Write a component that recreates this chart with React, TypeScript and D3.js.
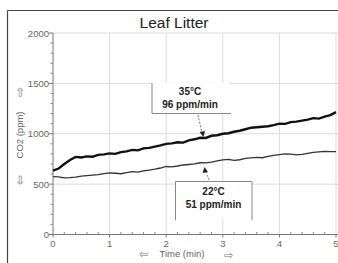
import React from "react";
import * as d3 from "d3";

const times = [
  0, 0.1, 0.2, 0.3, 0.4, 0.5, 0.6, 0.7, 0.8, 0.9,
  1.0, 1.1, 1.2, 1.3, 1.4, 1.5, 1.6, 1.7, 1.8, 1.9,
  2.0, 2.1, 2.2, 2.3, 2.4, 2.5, 2.6, 2.7, 2.8, 2.9,
  3.0, 3.1, 3.2, 3.3, 3.4, 3.5, 3.6, 3.7, 3.8, 3.9,
  4.0, 4.1, 4.2, 4.3, 4.4, 4.5, 4.6, 4.7, 4.8, 4.9, 5.0,
];
const co2_35C = [
  635, 655, 700, 740, 770, 765, 775, 772, 790, 795,
  805, 800, 818, 825, 840, 835, 855, 860, 872, 885,
  900, 905, 915, 912, 935, 945, 960, 958, 980, 985,
  1000, 1005, 1020, 1030, 1045, 1060, 1065, 1070, 1075, 1085,
  1100, 1098, 1115, 1120, 1130, 1140, 1155, 1150, 1170, 1185, 1215,
];
const co2_22C = [
  575, 572, 562, 565, 570, 580, 585, 590, 595, 605,
  612, 608, 603, 615, 625, 620, 632, 640, 648, 660,
  675, 672, 680, 690, 695, 700, 712, 710, 718, 730,
  740, 745, 735, 742, 755, 760, 765, 762, 775, 785,
  792, 800, 798, 790, 795, 805, 815, 820, 825, 822, 822,
];
const xTicks = [0, 1, 2, 3, 4, 5];
const yTicks = [0, 500, 1000, 1500, 2000];
const title = "Leaf Litter";
const xLabel = "Time (min)";
const yLabel = "CO2 (ppm)";
const note35 = ["35°C", "96 ppm/min"];
const note22 = ["22°C", "51 ppm/min"];

const W = 338, H = 263;
const FONT = "'Liberation Sans', Arial, sans-serif";

export default function App() {
  const x = d3.scaleLinear().domain([0, 5]).range([53, 336]);
  const y = d3.scaleLinear().domain([0, 2000]).range([234.5, 33]);
  const line = d3.line<number>().x((_, i) => x(times[i])).y((d) => y(d));
  const xMinor = d3.range(0, 5.001, 0.2).filter((t) => Math.abs(t - Math.round(t)) > 0.01);
  const yMinor = d3.range(0, 2001, 100).filter((v) => v % 500 !== 0);
  const x0 = x(0), yb = y(0);

  return (
    <div style={{ position: "fixed", left: 0, top: 0 }}>
      <svg width={W} height={H} style={{ display: "block", background: "#fff" }} fontFamily={FONT}>
        {/* outer frame */}
        <line x1={7.5} y1={10.5} x2={W} y2={10.5} stroke="#444" strokeWidth={1.2} />
        <line x1={7.5} y1={10.5} x2={7.5} y2={H} stroke="#444" strokeWidth={1.2} />
        <text x={174} y={28} textAnchor="middle" fontSize={15.5} fill="#222">{title}</text>

        {/* grid */}
        {xTicks.filter((t) => t > 0).map((t) => (
          <line key={"gx" + t} x1={x(t)} x2={x(t)} y1={y(2000)} y2={yb} stroke="#dcdcdc" strokeWidth={1} />
        ))}
        {yTicks.filter((v) => v > 0).map((v) => (
          <line key={"gy" + v} x1={x0} x2={W} y1={y(v)} y2={y(v)} stroke="#dcdcdc" strokeWidth={1} />
        ))}

        {/* axes */}
        <line x1={x0} x2={x0} y1={y(2000)} y2={yb} stroke="#777" strokeWidth={1} />
        <line x1={x0} x2={W} y1={yb} y2={yb} stroke="#777" strokeWidth={1} />
        {yTicks.map((v) => (
          <g key={"yt" + v}>
            <line x1={x0 - 4} x2={x0} y1={y(v)} y2={y(v)} stroke="#777" />
            <text x={x0 - 4} y={y(v) + 3.5} textAnchor="end" fontSize={9.5} fill="#666">{v}</text>
          </g>
        ))}
        {yMinor.map((v) => (
          <line key={"ym" + v} x1={x0 - 2.5} x2={x0} y1={y(v)} y2={y(v)} stroke="#888" />
        ))}
        {xTicks.map((t) => (
          <g key={"xt" + t}>
            <line x1={x(t)} x2={x(t)} y1={yb} y2={yb + 3} stroke="#777" />
            <text x={x(t)} y={yb + 12} textAnchor="middle" fontSize={9.5} fill="#666">{t}</text>
          </g>
        ))}
        {xMinor.map((t) => (
          <line key={"xm" + t} x1={x(t)} x2={x(t)} y1={yb - 2.5} y2={yb} stroke="#888" />
        ))}

        {/* axis labels */}
        <text x={182} y={257} textAnchor="middle" fontSize={9.5} fill="#666">{xLabel}</text>
        <text x={143} y={258} textAnchor="middle" fontSize={11} fill="#777">⇦</text>
        <text x={228} y={259} textAnchor="middle" fontSize={11} fill="#777">⇨</text>
        <text transform="translate(23,135) rotate(-90)" textAnchor="middle" fontSize={9.5} fill="#666">{yLabel}</text>
        <text transform="translate(24,92) rotate(-90)" textAnchor="middle" fontSize={12} fill="#777">⇨</text>
        <text transform="translate(24,180) rotate(-90)" textAnchor="middle" fontSize={12} fill="#777">⇦</text>

        {/* data lines */}
        <path d={line(co2_22C) || ""} fill="none" stroke="#333" strokeWidth={1.3} />
        <path d={line(co2_35C) || ""} fill="none" stroke="#111" strokeWidth={2.4} />

        {/* annotation 35C */}
        <rect x={152} y={83} width={78} height={30} fill="#fff" />
        <polyline points="152,83 152,113.5 231,113.5" fill="none" stroke="#888" strokeWidth={1} />
        <text x={190} y={95} textAnchor="middle" fontSize={10} fontWeight="bold" fill="#222">{note35[0]}</text>
        <text x={190} y={108} textAnchor="middle" fontSize={10} fontWeight="bold" fill="#222">{note35[1]}</text>
        <line x1={198} y1={115} x2={202} y2={133} stroke="#555" strokeWidth={0.8} strokeDasharray="2,1.5" />
        <path d="M199.5,132 L205,131 L203.5,137 Z" fill="#222" />

        {/* annotation 22C */}
        <rect x={175.5} y={181.5} width={76.5} height={37} fill="#fff" />
        <polyline points="175.5,220 175.5,181.5 252,181.5 252,220" fill="none" stroke="#888" strokeWidth={1} />
        <text x={213.5} y={194.5} textAnchor="middle" fontSize={10} fontWeight="bold" fill="#222">{note22[0]}</text>
        <text x={213.5} y={208} textAnchor="middle" fontSize={10} fontWeight="bold" fill="#222">{note22[1]}</text>
        <line x1={209} y1={180} x2={206} y2={172} stroke="#555" strokeWidth={0.8} strokeDasharray="2,1.5" />
        <path d="M202.5,173 L208,172 L204.5,167 Z" fill="#222" />
      </svg>
    </div>
  );
}
